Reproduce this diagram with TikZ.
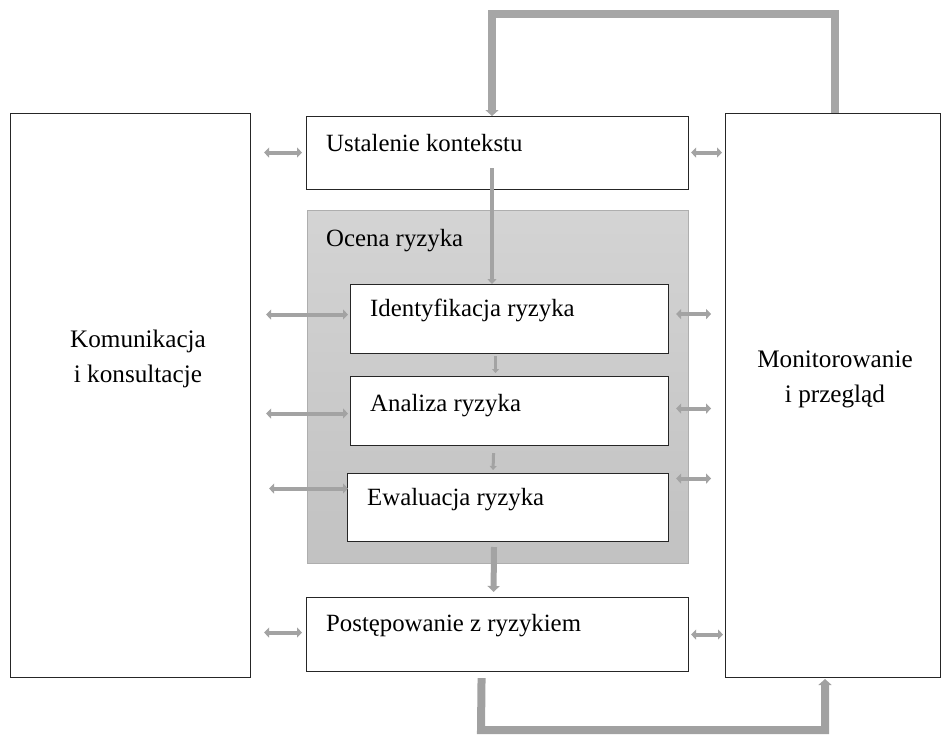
\documentclass[tikz,border=0pt]{standalone}
\usepackage{fontspec}
\setmainfont{Liberation Serif}
\usetikzlibrary{arrows.meta,calc}
\definecolor{arrowgray}{HTML}{A3A3A3}
\definecolor{loopgray}{HTML}{A6A6A6}
\definecolor{framegray}{HTML}{AEAEAE}
\begin{document}
\begin{tikzpicture}[x=1pt,y=-1pt,
  box/.style={draw=black!85,line width=1.1pt,fill=white,anchor=north west,inner sep=0pt},
  lbl/.style={anchor=base west,inner sep=0pt,font=\fontsize{24.8}{35}\selectfont},
  side/.style={align=center,inner sep=0pt,font=\fontsize{25.2}{35}\selectfont},
  dbl/.style={draw=arrowgray,line width=4pt,{Triangle[width=10pt,length=5pt]}-{Triangle[width=10pt,length=5pt]}},
  down/.style={draw=arrowgray,line width=4pt,-{Triangle[width=9pt,length=5pt]}},
  loop/.style={draw=loopgray,line width=8pt,line join=miter,-{Triangle[width=13pt,length=6pt]}}
]
\useasboundingbox (0,0) rectangle (942,734);

% side boxes
\node[box,minimum width=240pt,minimum height=564pt] (komm) at (10,113) {};
\node[box,minimum width=215pt,minimum height=564pt] (mon) at (725,113) {};
\node[side] (kommtxt) at (138,359) {Komunikacja\\i konsultacje};
\node[side] (montxt) at (835,379) {Monitorowanie\\i przegląd};

% context box
\node[box,minimum width=382pt,minimum height=73pt] (ustal) at (306,116) {};
\node[lbl] (ustaltxt) at (326,151) {Ustalenie kontekstu};

% risk assessment frame
\node[anchor=north west,inner sep=0pt,minimum width=381pt,minimum height=353pt,
      draw=framegray,line width=1pt,top color=black!17,bottom color=black!24] (ocena) at (307,210) {};
\node[lbl] (ocenatxt) at (326,246) {Ocena ryzyka};

\node[box,minimum width=318pt,minimum height=69pt] (ident) at (350,284) {};
\node[lbl] (identtxt) at (370,316) {Identyfikacja ryzyka};
\node[box,minimum width=318pt,minimum height=69pt] (anal) at (350,376) {};
\node[lbl] (analtxt) at (370,411) {Analiza ryzyka};
\node[box,minimum width=321pt,minimum height=68pt] (ewal) at (347,473) {};
\node[lbl] (ewaltxt) at (367,505) {Ewaluacja ryzyka};

% treatment box
\node[box,minimum width=382pt,minimum height=74pt] (post) at (306,597) {};
\node[lbl] (posttxt) at (326,631) {Postępowanie z ryzykiem};

% vertical flow
\coordinate (u1) at (492,168);
\draw[down] (u1) -- (u1 |- ident.north);
\draw[down,line width=3pt,-{Triangle[width=7pt,length=4pt]}] ($(ident.south)+(-14,2)$) -- ($(anal.north)+(-14,-3)$);
\draw[down,line width=3pt,-{Triangle[width=7pt,length=4pt]}] ($(anal.south)+(-16,7)$) -- ($(ewal.north)+(-15,-3)$);
\draw[down,line width=6pt,-{Triangle[width=12pt,length=6pt]}] ($(ocena.south)+(-4,-17)$) -- ($(post.north)+(-4,-5)$);

% feedback loops
\coordinate (topl) at (492,14);
\draw[loop] (mon.north -| 835,0) |- (topl) -- (topl |- ustal.north);
\coordinate (botl) at (481,730);
\draw[loop,draw=black!37] ($(post.south)+(-16,6)$) -- (botl) -| (825,679);

% communication arrows (left)
\draw[dbl] ($(komm.east |- ustal.west)+(13,-0.5)$) -- ($(ustal.west)+(-4,-0.5)$);
\draw[dbl] ($(komm.east |- ident.west)+(15,-4.5)$) -- ($(ident.west)+(-2,-4.5)$);
\draw[dbl] ($(komm.east |- anal.west)+(15,2.5)$) -- ($(anal.west)+(-2,2.5)$);
\draw[dbl] ($(komm.east |- ewal.west)+(18,-19)$) -- ($(ewal.west)+(1,-19)$);
\draw[dbl] ($(komm.east |- post.west)+(13,-2)$) -- ($(post.west)+(-4,-2)$);

% monitoring arrows (right)
\draw[dbl] ($(ustal.east)+(2,-0.5)$) -- ($(mon.west |- ustal.east)+(-3,-0.5)$);
\draw[dbl] ($(ident.east)+(7,-5)$) -- ($(ident.east)+(42,-5)$);
\draw[dbl] ($(anal.east)+(7,-2.5)$) -- ($(anal.east)+(42,-2.5)$);
\draw[dbl] ($(ewal.east)+(7,-29)$) -- ($(ewal.east)+(42,-29)$);
\draw[dbl] ($(post.east)+(2,-0)$) -- ($(mon.west |- post.east)+(-2,0)$);
\end{tikzpicture}
\end{document}
